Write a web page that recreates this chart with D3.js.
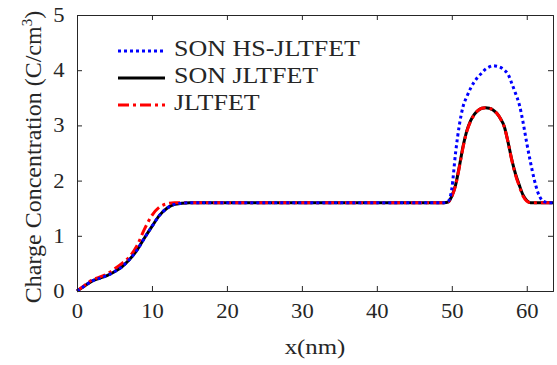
<!DOCTYPE html>
<html>
<head>
<meta charset="utf-8">
<script src="https://cdn.jsdelivr.net/npm/d3@7"></script>
<style>
  body { margin: 0; background: #fff; }
  text { font-family: "Liberation Serif", "Times New Roman", serif; fill: #262626; }
</style>
</head>
<body>
<div id="viz"></div>
<script>
// shared x positions (nm)
const xNm = [0, 1, 2, 3, 4, 5, 6, 7, 8, 9, 10, 11, 12, 13, 14, 15, 20, 30, 40, 49,
  49.5, 50, 50.5, 51, 51.5, 52, 52.5, 53, 53.5, 54, 54.5, 55, 55.5, 56, 56.5, 57, 57.5,
  58, 58.5, 59, 59.5, 60, 60.5, 61, 61.5, 62, 62.5, 63, 63.5];

// charge concentration (C/cm^3) for each device
const sonHs = [0, 0.09, 0.18, 0.23, 0.28, 0.35, 0.44, 0.57, 0.74, 0.96, 1.17, 1.37, 1.5, 1.57, 1.59, 1.6, 1.6, 1.6, 1.6, 1.6,
  1.62, 1.85, 2.5, 3.0, 3.34, 3.52, 3.67, 3.79, 3.88, 3.95, 4.02, 4.06, 4.08, 4.07, 4.05, 4.0, 3.93,
  3.76, 3.58, 3.38, 3.06, 2.68, 2.33, 2.02, 1.78, 1.65, 1.61, 1.6, 1.6];
const son = [0, 0.09, 0.18, 0.23, 0.28, 0.35, 0.44, 0.57, 0.74, 0.96, 1.17, 1.37, 1.5, 1.57, 1.59, 1.6, 1.6, 1.6, 1.6, 1.6,
  1.61, 1.72, 1.92, 2.25, 2.62, 2.9, 3.08, 3.2, 3.27, 3.31, 3.32, 3.31, 3.28, 3.22, 3.12, 2.98, 2.7,
  2.38, 2.12, 1.92, 1.74, 1.64, 1.6, 1.6, 1.6, 1.6, 1.6, 1.6, 1.6];
const jl = [0, 0.1, 0.2, 0.25, 0.31, 0.4, 0.5, 0.62, 0.82, 1.12, 1.37, 1.52, 1.58, 1.6, 1.6, 1.6, 1.6, 1.6, 1.6, 1.6,
  1.61, 1.71, 1.91, 2.24, 2.6, 2.89, 3.07, 3.19, 3.27, 3.31, 3.32, 3.31, 3.28, 3.22, 3.12, 2.97, 2.7,
  2.37, 2.1, 1.9, 1.72, 1.63, 1.6, 1.6, 1.6, 1.6, 1.6, 1.6, 1.6];

const xTicks = [0, 10, 20, 30, 40, 50, 60];
const yTicks = [0, 1, 2, 3, 4, 5];
const legendNames = ["SON HS-JLTFET", "SON JLTFET", "JLTFET"];

const W = 557, H = 365;
const mLeft = 77, mRight = 553, mTop = 15, mBottom = 291;
const stretch = 1.13;
const axisCol = "#262626";

const svg = d3.select("#viz").append("svg")
  .attr("width", W)
  .attr("height", H);

const x = d3.scaleLinear().domain([0, 63.5]).range([mLeft, mRight]);
const y = d3.scaleLinear().domain([0, 5]).range([mBottom, mTop]);

// series, drawn black first so the dashed ones sit on top
const series = [
  { name: legendNames[1], vals: son, color: "#000000", dash: null },
  { name: legendNames[2], vals: jl, color: "#ff0000", dash: "11,4,3,4" },
  { name: legendNames[0], vals: sonHs, color: "#0000ff", dash: "3,3" }
];

const line = d3.line()
  .x((d, i) => x(xNm[i]))
  .y(d => y(d))
  .curve(d3.curveMonotoneX);

series.forEach(s => {
  svg.append("path")
    .datum(s.vals)
    .attr("fill", "none")
    .attr("stroke", s.color)
    .attr("stroke-width", 3)
    .attr("stroke-dasharray", s.dash)
    .attr("d", line);
});

// axes: ticks point inward, mirrored on top/right
const xAxis = d3.axisBottom(x).tickValues(xTicks).tickFormat(d3.format("d")).tickSize(-5).tickPadding(13);
const yAxis = d3.axisLeft(y).tickValues(yTicks).tickFormat(d3.format("d")).tickSize(-5).tickPadding(11);

const gx = svg.append("g").attr("transform", `translate(0,${mBottom})`).call(xAxis);
const gy = svg.append("g").attr("transform", `translate(${mLeft},0)`).call(yAxis);
svg.append("g").attr("transform", `translate(0,${mTop})`)
  .call(d3.axisTop(x).tickValues(xTicks).tickSize(-5).tickFormat(""));
svg.append("g").attr("transform", `translate(${mRight},0)`)
  .call(d3.axisRight(y).tickValues(yTicks).tickSize(-5).tickFormat(""));

svg.selectAll(".domain").attr("stroke", axisCol).attr("stroke-width", 1);
svg.selectAll(".tick line").attr("stroke", axisCol);
gx.selectAll("text").style("font-size", "20px")
  .attr("transform", `scale(${stretch},1)`);
gy.selectAll("text").style("font-size", "20px")
  .attr("transform", `scale(${stretch},1)`);
svg.selectAll(".tick text").style("font-family", "Liberation Serif").attr("fill", axisCol);

// axis titles
svg.append("text")
  .attr("transform", `translate(315,354) scale(${stretch},1)`)
  .attr("text-anchor", "middle")
  .style("font-size", "22px")
  .text("x(nm)");

const yl = svg.append("text")
  .attr("transform", "translate(41,157) rotate(-90)")
  .attr("text-anchor", "middle")
  .style("font-size", "24px");
yl.append("tspan").text("Charge Concentration (C/cm");
yl.append("tspan").attr("dy", -9).style("font-size", "15px").text("3");
yl.append("tspan").attr("dy", 9).text(")");

// legend
const legY = [51, 78, 105];
const legOrder = [series[2], series[0], series[1]];
legOrder.forEach((s, i) => {
  svg.append("line")
    .attr("x1", 118).attr("x2", 165)
    .attr("y1", legY[i]).attr("y2", legY[i])
    .attr("stroke", s.color)
    .attr("stroke-width", 3)
    .attr("stroke-dasharray", s.dash);
  svg.append("text")
    .attr("transform", `translate(174,${legY[i] + 5}) scale(${stretch},1)`)
    .style("font-size", "23px")
    .text(s.name);
});
</script>
</body>
</html>
